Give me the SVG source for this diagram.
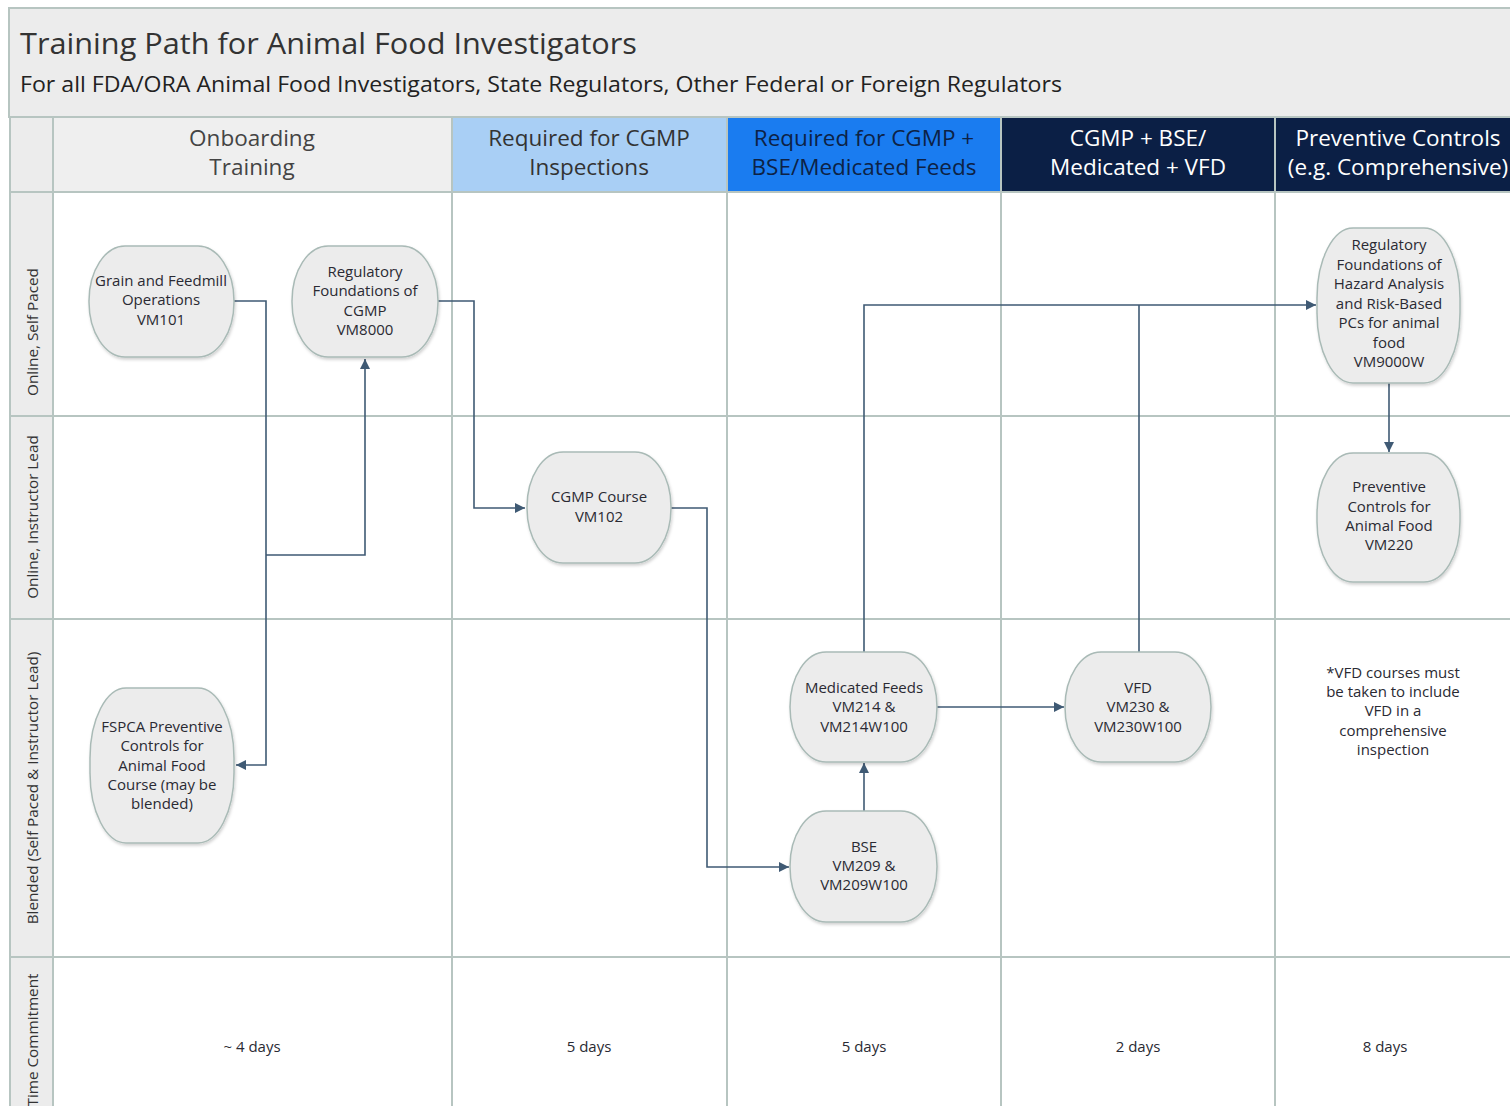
<svg xmlns="http://www.w3.org/2000/svg" width="1510" height="1106" viewBox="0 0 1510 1106">
<style>
.grid{stroke:#b7c5c1;stroke-width:2;fill:none}
.node rect{fill:#ececec;stroke:#a9bab6;stroke-width:1.5;filter:url(#sh)}
.nt{font-family:"Open Sans","Noto Sans",sans-serif;font-size:15px;fill:#2a2a33;text-anchor:middle}
.hd{font-family:"Open Sans","Noto Sans",sans-serif;font-size:22.5px;text-anchor:middle}
.lane{font-family:"Open Sans","Noto Sans",sans-serif;font-size:15.3px;fill:#333;text-anchor:middle}
.conn path{fill:none;stroke:#3f5a74;stroke-width:1.6}
</style>
<defs>
<filter id="sh" x="-20%" y="-20%" width="140%" height="140%">
<feDropShadow dx="1" dy="2" stdDeviation="1.5" flood-color="#000" flood-opacity="0.18"/>
</filter>
<marker id="ah" viewBox="0 0 10 10" refX="10" refY="5" markerWidth="10" markerHeight="10" markerUnits="userSpaceOnUse" orient="auto">
<path d="M0,0 L10,5 L0,10 z" fill="#3f5a74"/>
</marker>
</defs>
<rect width="1510" height="1106" fill="#ffffff"/>
<!-- title area -->
<g id="title">
<rect x="9" y="8" width="1503" height="109" fill="#ececec" stroke="#b7c5c1" stroke-width="2"/>
<text x="20" y="54" font-family="Open Sans,Noto Sans,sans-serif" font-size="30" fill="#333" textLength="617" lengthAdjust="spacingAndGlyphs">Training Path for Animal Food Investigators</text>
<text x="20" y="92" font-family="Open Sans,Noto Sans,sans-serif" font-size="22" fill="#222" textLength="1042" lengthAdjust="spacingAndGlyphs">For all FDA/ORA Animal Food Investigators, State Regulators, Other Federal or Foreign Regulators</text>
</g>
<!-- header row -->
<g id="headers">
<rect x="10" y="117" width="43" height="989" fill="#ececec"/>
<rect x="53" y="117" width="399" height="75" fill="#efefef"/>
<rect x="452" y="117" width="275" height="75" fill="#a9cff5"/>
<rect x="727" y="117" width="274" height="75" fill="#1a7cf0"/>
<rect x="1001" y="117" width="274" height="75" fill="#0b1f45"/>
<rect x="1275" y="117" width="236" height="75" fill="#0b1f45"/>
<text class="hd" fill="#444"><tspan x="252" y="146">Onboarding</tspan><tspan x="252" y="175">Training</tspan></text>
<text class="hd" fill="#333"><tspan x="589" y="146">Required for CGMP</tspan><tspan x="589" y="175">Inspections</tspan></text>
<text class="hd" fill="#0d2245"><tspan x="864" y="146">Required for CGMP +</tspan><tspan x="864" y="175">BSE/Medicated Feeds</tspan></text>
<text class="hd" fill="#ffffff"><tspan x="1138" y="146">CGMP + BSE/</tspan><tspan x="1138" y="175">Medicated + VFD</tspan></text>
<text class="hd" fill="#ffffff"><tspan x="1398" y="146">Preventive Controls</tspan><tspan x="1398" y="175">(e.g. Comprehensive)</tspan></text>
</g>
<!-- grid lines -->
<g id="grid">
<path class="grid" d="M10,117 V1106 M53,117 V1106 M452,117 V1106 M727,117 V1106 M1001,117 V1106 M1275,117 V1106"/>
<path class="grid" d="M10,117 H1510 M10,192 H1510 M10,416 H1510 M10,619 H1510 M10,957 H1510"/>
</g>
<!-- lane labels -->
<g id="lanes">
<text class="lane" transform="translate(38,332) rotate(-90)">Online, Self Paced</text>
<text class="lane" transform="translate(38,517) rotate(-90)">Online, Instructor Lead</text>
<text class="lane" transform="translate(38,788) rotate(-90)">Blended (Self Paced &amp; Instructor Lead)</text>
<text class="lane" transform="translate(38,1040) rotate(-90)">Time Commitment</text>
</g>
<!-- connectors -->
<g id="connectors" class="conn">
<path d="M234,301 H266 V765 H236" marker-end="url(#ah)"/>
<path d="M266,555 H365 V359" marker-end="url(#ah)"/>
<path d="M438,301 H474 V508 H525" marker-end="url(#ah)"/>
<path d="M671,508 H707 V867 H789" marker-end="url(#ah)"/>
<path d="M864,811 V763" marker-end="url(#ah)"/>
<path d="M864,652 V305 H1316" marker-end="url(#ah)"/>
<path d="M937,707 H1064" marker-end="url(#ah)"/>
<path d="M1139,652 V305"/>
<path d="M1389,383 V452" marker-end="url(#ah)"/>
</g>
<!-- nodes -->
<g id="n-vm101" class="node"><rect x="89" y="246" width="145" height="111" rx="36" ry="55"/>
<text class="nt"><tspan x="161" y="286">Grain and Feedmill</tspan><tspan x="161" y="305">Operations</tspan><tspan x="161" y="325">VM101</tspan></text></g>
<g id="n-vm8000" class="node"><rect x="292" y="246" width="146" height="111" rx="36" ry="55"/>
<text class="nt"><tspan x="365" y="277">Regulatory</tspan><tspan x="365" y="296">Foundations of</tspan><tspan x="365" y="316">CGMP</tspan><tspan x="365" y="335">VM8000</tspan></text></g>
<g id="n-vm102" class="node"><rect x="527" y="452" width="144" height="111" rx="36" ry="55"/>
<text class="nt"><tspan x="599" y="502">CGMP Course</tspan><tspan x="599" y="522">VM102</tspan></text></g>
<g id="n-vm9000w" class="node"><rect x="1317" y="228" width="143" height="155" rx="36" ry="70"/>
<text class="nt"><tspan x="1389" y="250">Regulatory</tspan><tspan x="1389" y="270">Foundations of</tspan><tspan x="1389" y="289">Hazard Analysis</tspan><tspan x="1389" y="309">and Risk-Based</tspan><tspan x="1389" y="328">PCs for animal</tspan><tspan x="1389" y="348">food</tspan><tspan x="1389" y="367">VM9000W</tspan></text></g>
<g id="n-vm220" class="node"><rect x="1317" y="453" width="143" height="129" rx="36" ry="60"/>
<text class="nt"><tspan x="1389" y="492">Preventive</tspan><tspan x="1389" y="512">Controls for</tspan><tspan x="1389" y="531">Animal Food</tspan><tspan x="1389" y="550">VM220</tspan></text></g>
<g id="n-fspca" class="node"><rect x="90" y="688" width="144" height="155" rx="36" ry="70"/>
<text class="nt"><tspan x="162" y="732">FSPCA Preventive</tspan><tspan x="162" y="751">Controls for</tspan><tspan x="162" y="771">Animal Food</tspan><tspan x="162" y="790">Course (may be</tspan><tspan x="162" y="809">blended)</tspan></text></g>
<g id="n-vm214" class="node"><rect x="790" y="652" width="147" height="110" rx="36" ry="55"/>
<text class="nt"><tspan x="864" y="693">Medicated Feeds</tspan><tspan x="864" y="712">VM214 &amp;</tspan><tspan x="864" y="732">VM214W100</tspan></text></g>
<g id="n-vm209" class="node"><rect x="790" y="811" width="147" height="111" rx="36" ry="55"/>
<text class="nt"><tspan x="864" y="852">BSE</tspan><tspan x="864" y="871">VM209 &amp;</tspan><tspan x="864" y="890">VM209W100</tspan></text></g>
<g id="n-vm230" class="node"><rect x="1065" y="652" width="146" height="110" rx="36" ry="55"/>
<text class="nt"><tspan x="1138" y="693">VFD</tspan><tspan x="1138" y="712">VM230 &amp;</tspan><tspan x="1138" y="732">VM230W100</tspan></text></g>
<!-- note -->
<g id="note">
<text class="nt"><tspan x="1393" y="678">*VFD courses must</tspan><tspan x="1393" y="697">be taken to include</tspan><tspan x="1393" y="716">VFD in a</tspan><tspan x="1393" y="736">comprehensive</tspan><tspan x="1393" y="755">inspection</tspan></text>
</g>
<!-- time commitments -->
<g id="times">
<text class="nt" x="252" y="1052">~ 4 days</text>
<text class="nt" x="589" y="1052">5 days</text>
<text class="nt" x="864" y="1052">5 days</text>
<text class="nt" x="1138" y="1052">2 days</text>
<text class="nt" x="1385" y="1052">8 days</text>
</g>
</svg>
